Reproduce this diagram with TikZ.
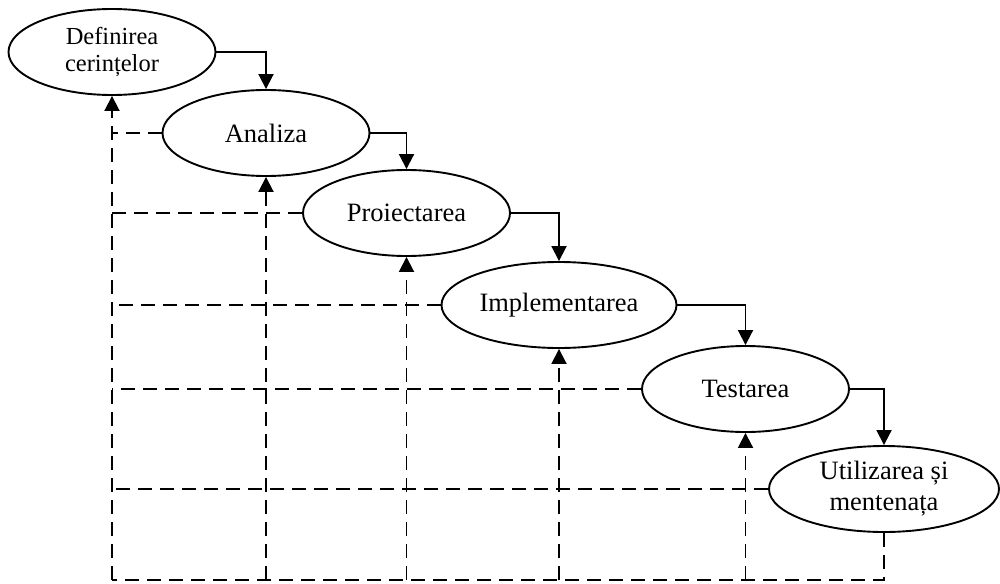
\documentclass[tikz,border=0pt]{standalone}
\usepackage{fontspec}
\setmainfont{Liberation Serif}
\usetikzlibrary{shapes.geometric,arrows.meta,calc}
\begin{document}
\begin{tikzpicture}[x=1pt,y=-1pt,
  phase/.style={ellipse,draw,line width=1.9pt,inner sep=0pt,
    minimum width=207pt,minimum height=86pt,align=center,
    font=\fontsize{26.5}{31}\selectfont},
  flow/.style={line width=1.9pt,-{Triangle[length=15pt,width=15pt]}},
  back/.style={line width=1.9pt,dash pattern=on 14pt off 8pt},
  backarrow/.style={back,-{Triangle[length=15pt,width=15pt]}}]
\useasboundingbox (0,0) rectangle (1000,583);

% phases of the life cycle
\node[phase,font=\fontsize{24.5}{27}\selectfont] (def) at (112,52) {Definirea\\cerințelor};
\node[phase] (ana) at (266,133) {Analiza};
\node[phase] (pro) at (406.5,213) {Proiectarea};
\node[phase,minimum width=235pt] (imp) at (559,305) {Implementarea};
\node[phase] (tes) at (745.5,389) {Testarea};
\node[phase,minimum width=230pt] (uti) at (884,489) {Utilizarea și\\mentenața};

% forward flow
\draw[flow] (def.east) -| (ana.north);
\draw[flow] (ana.east) -| (pro.north);
\draw[flow] (pro.east) -| (imp.north);
\draw[flow] (imp.east) -| (tes.north);
\draw[flow] (tes.east) -| (uti.north);

% feedback loops
\coordinate (base) at (0,580);
\coordinate (bl) at (def.south |- base);
\draw[back] (uti.south) |- (bl);
\draw[backarrow] (bl) -- (def.south);
\foreach \n in {ana,pro,imp,tes}{
  \draw[backarrow] (\n.south |- base) -- (\n.south);
}
\foreach \n in {ana,pro,imp,tes,uti}{
  \draw[back] (\n.west) -- (\n.west -| bl);
}
\end{tikzpicture}
\end{document}
